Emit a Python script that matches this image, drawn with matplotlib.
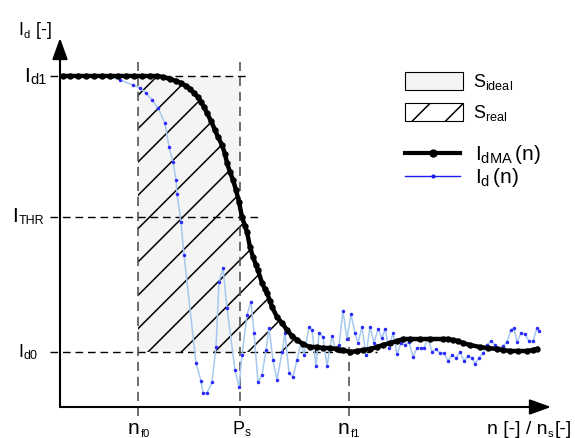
import numpy as np
import matplotlib
matplotlib.use("Agg")
import matplotlib.pyplot as plt
from matplotlib.patches import Patch
from matplotlib.lines import Line2D

plt.rcParams['font.family'] = ['Liberation Sans', 'DejaVu Sans']
plt.rcParams['mathtext.fontset'] = 'custom'
plt.rcParams['mathtext.rm'] = 'Liberation Sans'
plt.rcParams['mathtext.it'] = 'Liberation Sans:italic'
plt.rcParams['hatch.linewidth'] = 1.1

# characteristic levels / positions (schematic units)
id1 = 331
ithr = 190
id0 = 55
nf0 = 78
ps = 180
nf1 = 289

# moving average I_dMA(n)
ma_x = np.array([3, 10, 18, 26, 34, 42, 50, 58, 66, 74, 82, 90, 97, 103, 110, 116, 121, 126,
                 130, 134, 138, 141, 144, 147, 151, 155, 158, 162, 165, 167, 170, 173, 176,
                 179, 182, 185, 187, 190, 193, 196, 198, 202, 205, 207, 210, 212, 217, 222,
                 227, 232, 237, 243, 250, 257, 263, 270, 277, 283, 290, 297, 303, 310, 317,
                 323, 330, 337, 343, 350, 360, 370, 383, 388, 393, 398, 403, 410, 420, 428,
                 437, 443, 450, 458, 467, 473, 477])
ma_y = np.array([331, 331, 331, 331, 331, 331, 331, 331, 331, 331, 331, 331, 331, 330, 328, 326,
                 324, 321, 318, 314, 310, 305, 300, 294, 286, 277, 270, 262, 253, 244, 235,
                 227, 217, 205, 190, 181, 175, 160, 150, 142, 137, 124, 118, 114, 106, 100,
                 90, 84, 77, 71, 67, 63, 60, 60, 59, 59, 58, 57, 55, 56, 57, 58, 60, 62, 64,
                 66, 68, 68, 68, 68, 68, 68, 67, 66, 64, 62, 60, 59, 58, 57, 56, 56, 56, 57, 58])

# raw signal I_d(n)
id_x = np.array([3, 10, 18, 26, 34, 42, 50, 60, 73, 80, 86, 92, 98, 105, 109, 113, 116, 117,
                 121, 124, 136, 141, 143, 147, 152, 156, 159, 163, 167, 175, 179, 182, 187,
                 191, 194, 198, 202, 206, 209, 213, 217, 222, 225, 229, 233, 237, 241, 244,
                 249, 252, 256, 259, 263, 267, 272, 275, 279, 283, 287, 291, 295, 298, 302,
                 306, 310, 314, 318, 322, 325, 329, 333, 337, 341, 345, 349, 353, 357, 361,
                 364, 368, 372, 376, 380, 384, 388, 392, 396, 400, 404, 408, 412, 415, 419,
                 423, 427, 431, 435, 438, 443, 447, 451, 454, 457, 461, 465, 469, 473, 477,
                 479])
id_y = np.array([331, 331, 331, 331, 331, 331, 330, 327, 322, 319, 314, 307, 299, 284, 260,
                 245, 227, 213, 185, 152, 44, 26, 14, 14, 25, 60, 125, 139, 99, 37, 20, 52,
                 92, 105, 74, 25, 32, 57, 79, 47, 27, 55, 74, 34, 30, 47, 64, 52, 80, 77, 41,
                 74, 70, 41, 71, 59, 62, 96, 68, 93, 74, 64, 80, 52, 80, 64, 78, 69, 78, 59,
                 74, 53, 64, 62, 65, 50, 59, 59, 59, 69, 55, 58, 54, 54, 46, 52, 49, 55, 46,
                 51, 49, 43, 49, 54, 62, 66, 62, 59, 61, 65, 77, 79, 65, 74, 73, 66, 66, 79,
                 76])

fig = plt.figure(figsize=(5.75, 4.38), dpi=100)
ax = fig.add_axes([0, 0, 1, 1])
ax.set_xlim(-60, 515)
ax.set_ylim(-31, 407)
ax.axis('off')

# S_ideal area
ax.fill_between([nf0, ps], id0, id1, facecolor='#f4f4f4', edgecolor='none', zorder=1)

# S_real area (hatched, under the moving average)
mask = (ma_x > nf0) & (ma_x < nf1) & (ma_y > id0)
hx = np.concatenate([[nf0], ma_x[mask]])
hy = np.concatenate([[np.interp(nf0, ma_x, ma_y)], ma_y[mask]])
ax.fill_between(hx, hy, id0, facecolor='none', edgecolor='black', hatch='/',
                linewidth=0, zorder=2)

# guide lines
dash = (0, (5.5, 3.5))
ax.plot([-10, 190], [id1, id1], color='black', lw=1, ls=dash, zorder=3)
ax.plot([-10, 202], [ithr, ithr], color='black', lw=1, ls=dash, zorder=3)
ax.plot([-10, 317], [id0, id0], color='black', lw=1, ls=dash, zorder=3)
for xv, top in [(nf0, 345), (ps, 345), (nf1, 70)]:
    ax.plot([xv, xv], [-9, top], color='#555555', lw=1.2, ls=dash, zorder=3)

# curves
ax.plot(id_x, id_y, color='#a6c8ee', lw=1.1, marker='.', ms=3,
        mfc='#2a2aff', mec='#2a2aff', zorder=4)
ax.plot(ma_x, ma_y, color='black', lw=3.2, marker='o', ms=3.6, zorder=5)

# axes with arrows
arr = dict(arrowstyle='-|>,head_length=1.3,head_width=0.47', mutation_scale=10,
           lw=1.5, color='black', shrinkA=0, shrinkB=0)
ax.annotate('', xy=(0, 369), xytext=(0, 0), arrowprops=arr, zorder=6)
ax.annotate('', xy=(491, 0), xytext=(0, 0), arrowprops=arr, zorder=6)


def sublabel(x, y, main, sub, after='', fs=15, sfs=9):
    t = ax.text(x, y, main, fontsize=fs, ha='left', va='baseline')
    s = ax.annotate(sub, xy=(1, 0), xycoords=t, xytext=(0.5, -1),
                    textcoords='offset points', fontsize=sfs, ha='left', va='bottom')
    if after:
        ax.annotate(after, xy=(1, 0), xycoords=(s, t), xytext=(1, 0),
                    textcoords='offset points', fontsize=fs, ha='left', va='bottom')


sublabel(-42, 372, 'I', 'd', ' [-]', fs=13, sfs=8)
sublabel(-36, 325, 'I', 'd1', fs=15, sfs=10.5)
sublabel(-48, 185, 'I', 'THR', fs=15, sfs=9)
sublabel(-42, 50, 'I', 'd0', fs=13, sfs=9)
sublabel(68, -27, 'n', 'f0', fs=15, sfs=8)
sublabel(172, -27, 'P', 's', fs=13, sfs=8.5)
sublabel(278, -27, 'n', 'f1', fs=15, sfs=8)
sublabel(427, -27, 'n [-] / n', 's', '[-]', fs=14, sfs=8)

# legend
h1 = [Patch(facecolor='#f4f4f4', edgecolor='black', lw=0.8),
      Patch(facecolor='white', edgecolor='black', hatch='/', lw=0.8)]
leg1 = ax.legend(h1, [r'$\mathrm{S}_{\mathrm{ideal}}$', r'$\mathrm{S}_{\mathrm{real}}$'],
                 loc='upper left', bbox_to_anchor=(345, 335), bbox_transform=ax.transData,
                 frameon=False, fontsize=13, handlelength=3.2, handleheight=1.15,
                 handletextpad=0.55, labelspacing=0.6, borderpad=0, borderaxespad=0)
ax.add_artist(leg1)
h2 = [Line2D([], [], color='black', lw=3, marker='o', ms=5),
      Line2D([], [], color='#1a1aee', lw=1, marker='.', ms=4)]
ax.legend(h2, [r'$\mathrm{I}_{\mathrm{dMA}}\,\mathrm{(n)}$', r'$\mathrm{I}_{\mathrm{d}}\,\mathrm{(n)}$'],
          loc='upper left', bbox_to_anchor=(345, 264), bbox_transform=ax.transData,
          frameon=False, fontsize=15, handlelength=2.65, numpoints=1,
          handletextpad=0.7, labelspacing=0.0, borderpad=0, borderaxespad=0)

fig.savefig('out.png', dpi=100)
